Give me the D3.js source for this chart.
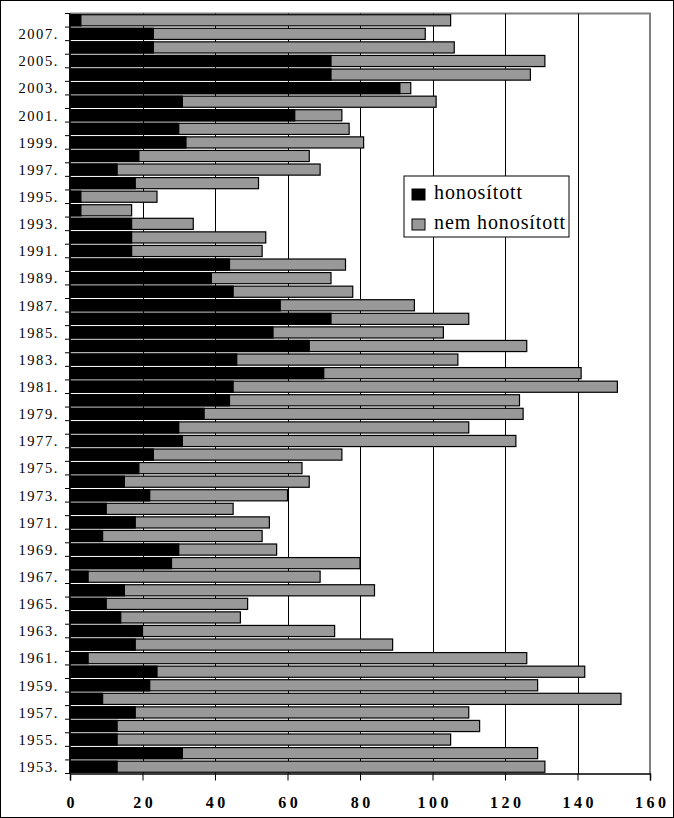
<!DOCTYPE html>
<html>
<head>
<meta charset="utf-8">
<script src="https://cdn.jsdelivr.net/npm/d3@7"></script>
<style>
  body { margin: 0; background: #fff; }
  svg { display: block; }
</style>
</head>
<body>
<svg width="674" height="818"></svg>
<script>
// years, bottom (1953) to top (2008)
var years = [1953, 1954, 1955, 1956, 1957, 1958, 1959, 1960, 1961, 1962,
  1963, 1964, 1965, 1966, 1967, 1968, 1969, 1970, 1971, 1972,
  1973, 1974, 1975, 1976, 1977, 1978, 1979, 1980, 1981, 1982,
  1983, 1984, 1985, 1986, 1987, 1988, 1989, 1990, 1991, 1992,
  1993, 1994, 1995, 1996, 1997, 1998, 1999, 2000, 2001, 2002,
  2003, 2004, 2005, 2006, 2007, 2008];

// black part
var honositott = [13, 31, 13, 13, 18, 9, 22, 24, 5, 18,
  20, 14, 10, 15, 5, 28, 30, 9, 18, 10,
  22, 15, 19, 23, 31, 30, 37, 44, 45, 70,
  46, 66, 56, 72, 58, 45, 39, 44, 17, 17,
  17, 3, 3, 18, 13, 19, 32, 30, 62, 31,
  91, 72, 72, 23, 23, 3];

// grey part (stacked after the black one)
var nemHonositott = [118, 98, 92, 100, 92, 143, 107, 118, 121, 71,
  53, 33, 39, 69, 64, 52, 27, 44, 37, 35,
  38, 51, 45, 52, 92, 80, 88, 80, 106, 71,
  61, 60, 47, 38, 37, 33, 33, 32, 36, 37,
  17, 14, 21, 34, 56, 47, 49, 47, 13, 70,
  3, 55, 59, 83, 75, 102];

var xTicks = [0, 20, 40, 60, 80, 100, 120, 140, 160];
var legendLabels = ["honosított", "nem honosított"];

var serif = "'Liberation Serif', 'Times New Roman', serif";

var svg = d3.select("svg");

// outer frame of the picture
svg.append("rect")
  .attr("x", 0.5).attr("y", 0.5)
  .attr("width", 673).attr("height", 817)
  .attr("fill", "none").attr("stroke", "#000");

var plotLeft = 70, plotRight = 650, plotTop = 13.5, plotBottom = 773.5;

var x = d3.scaleLinear().domain([0, 160]).range([plotLeft, plotRight]);

// 2008 on top
var y = d3.scaleBand()
  .domain(years.slice().reverse())
  .range([plotTop, plotBottom])
  .paddingInner(0.18)
  .paddingOuter(0.09);

var rows = years.map(function (yr, i) {
  return { year: yr, h: honositott[i], n: nemHonositott[i] };
});

// plot border (grey, top + right)
svg.append("path")
  .attr("d", "M" + plotLeft + "," + plotTop + "H" + plotRight + "V" + plotBottom)
  .attr("fill", "none")
  .attr("stroke", "#808080")
  .attr("stroke-width", 2);

// vertical gridlines
svg.selectAll("line.grid")
  .data(xTicks.slice(1, -1))
  .enter()
  .append("line")
  .attr("class", "grid")
  .attr("x1", function (d) { return Math.round(x(d)) + 0.5; })
  .attr("x2", function (d) { return Math.round(x(d)) + 0.5; })
  .attr("y1", plotTop)
  .attr("y2", plotBottom)
  .attr("stroke", "#000")
  .attr("stroke-width", 1);

// grey bars first (full total), then black on top
svg.selectAll("rect.nem")
  .data(rows)
  .enter()
  .append("rect")
  .attr("class", "nem")
  .attr("x", x(0))
  .attr("y", function (d) { return y(d.year); })
  .attr("width", function (d) { return x(d.h + d.n) - x(0); })
  .attr("height", y.bandwidth())
  .attr("fill", "#999999")
  .attr("stroke", "#000")
  .attr("stroke-width", 1.2);

svg.selectAll("rect.hon")
  .data(rows)
  .enter()
  .append("rect")
  .attr("class", "hon")
  .attr("x", x(0))
  .attr("y", function (d) { return y(d.year); })
  .attr("width", function (d) { return x(d.h) - x(0); })
  .attr("height", y.bandwidth())
  .attr("fill", "#000")
  .attr("stroke", "#000")
  .attr("stroke-width", 1.2);

// y axis: line, ticks on band boundaries, label every other year
var step = y.step();
var boundaries = years.map(function (yr) { return y(yr) - step * y.paddingInner() / 2; });
boundaries.push(plotBottom);

svg.append("line")
  .attr("x1", plotLeft).attr("x2", plotLeft)
  .attr("y1", plotTop).attr("y2", plotBottom)
  .attr("stroke", "#000").attr("stroke-width", 1.5);

svg.selectAll("line.ytick")
  .data(boundaries)
  .enter()
  .append("line")
  .attr("class", "ytick")
  .attr("x1", plotLeft - 5).attr("x2", plotLeft)
  .attr("y1", function (d) { return d; })
  .attr("y2", function (d) { return d; })
  .attr("stroke", "#000");

svg.selectAll("text.ylab")
  .data(years.filter(function (yr) { return yr % 2 === 1; }))
  .enter()
  .append("text")
  .attr("class", "ylab")
  .attr("x", 59)
  .attr("y", function (d) { return y(d) + y.bandwidth() / 2; })
  .attr("dy", "0.36em")
  .attr("text-anchor", "end")
  .style("font-family", serif)
  .style("font-size", "14.5px")
  .attr("letter-spacing", 1.6)
  .text(function (d) { return d + "."; });

// x axis
var xAxis = d3.axisBottom(x)
  .tickValues(xTicks)
  .tickSize(7)
  .tickPadding(16)
  .tickFormat(d3.format("d"));

var gx = svg.append("g")
  .attr("transform", "translate(0," + plotBottom + ")")
  .call(xAxis);

gx.select(".domain").attr("stroke", "#000").attr("stroke-width", 1.5);
gx.selectAll(".tick line").attr("stroke", "#000");
gx.selectAll(".tick text")
  .style("font-family", serif)
  .style("font-size", "16px")
  .style("font-weight", "bold")
  .attr("letter-spacing", 3.5)
  .attr("dx", 1.75)
  .attr("fill", "#000");

// legend
var legend = svg.append("g").attr("transform", "translate(404,176)");
legend.append("rect")
  .attr("width", 165).attr("height", 61)
  .attr("fill", "#fff").attr("stroke", "#000");

var legendColors = ["#000", "#999999"];
legendLabels.forEach(function (lab, i) {
  legend.append("rect")
    .attr("x", 8).attr("y", 13 + i * 30)
    .attr("width", 13).attr("height", 11)
    .attr("fill", legendColors[i])
    .attr("stroke", "#000");
  legend.append("text")
    .attr("x", 30).attr("y", 23 + i * 30)
    .style("font-family", serif)
    .style("font-size", "20px")
    .attr("letter-spacing", 0.9)
    .text(lab);
});
</script>
</body>
</html>
